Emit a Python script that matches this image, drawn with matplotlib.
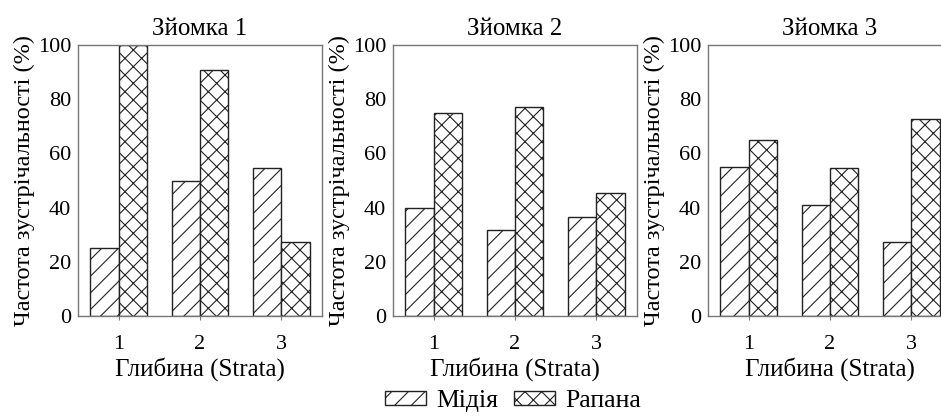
import matplotlib
matplotlib.use("Agg")
import matplotlib.pyplot as plt
import numpy as np

# data
strata = [1, 2, 3]
surveys = ["Зйомка 1", "Зйомка 2", "Зйомка 3"]
mussel = [
    [25, 50, 54.5],
    [40, 31.8, 36.4],
    [55, 40.9, 27.3],
]
rapana = [
    [100, 90.9, 27.3],
    [75, 77.3, 45.5],
    [65, 54.5, 72.7],
]
series_names = ["Мідія", "Рапана"]
y_ticks = [0, 20, 40, 60, 80, 100]

plt.rcParams['font.family'] = ['Liberation Serif', 'DejaVu Serif']
plt.rcParams['hatch.linewidth'] = 0.8
plt.rcParams['hatch.color'] = '#111111'

W, H = 941, 417
fig = plt.figure(figsize=(W / 100, H / 100), dpi=100)

lefts = [78, 393, 708]
ax_w, ax_top, ax_bot = 244, 45, 316
width = 0.35
spine_col = '#777777'

x = np.array(strata, dtype=float)
bars = None
for k, left in enumerate(lefts):
    ax = fig.add_axes([left / W, 1 - ax_bot / H, ax_w / W, (ax_bot - ax_top) / H])
    b1 = ax.bar(x - width / 2, mussel[k], width, facecolor='white',
                edgecolor='#222222', linewidth=1.0, hatch='//', label=series_names[0])
    b2 = ax.bar(x + width / 2, rapana[k], width, facecolor='white',
                edgecolor='#222222', linewidth=1.0, hatch='xx', label=series_names[1])
    bars = (b1, b2)
    ax.set_xlim(0.5, 3.5)
    ax.set_ylim(0, 100)
    ax.set_xticks(strata)
    ax.set_yticks(y_ticks)
    ax.tick_params(axis='x', length=3, width=0.8, color=spine_col, pad=11, labelsize=16)
    ax.tick_params(axis='y', length=0, pad=5, labelsize=16)
    for s in ax.spines.values():
        s.set_color(spine_col)
        s.set_linewidth(1.0)
    ax.set_title(surveys[k], fontsize=18, pad=7)
    ax.set_xlabel("Глибина (Strata)", fontsize=18, labelpad=2)
    ax.set_ylabel("Частота зустрічальності (%)", fontsize=17.5, labelpad=2)

fig.legend(bars, series_names, loc='center', bbox_to_anchor=(513 / W, 1 - 401 / H),
           ncol=2, frameon=False, fontsize=18.5, handlelength=1.6, handleheight=0.5,
           handletextpad=0.4, columnspacing=0.6)

fig.savefig("out.png", dpi=100)
